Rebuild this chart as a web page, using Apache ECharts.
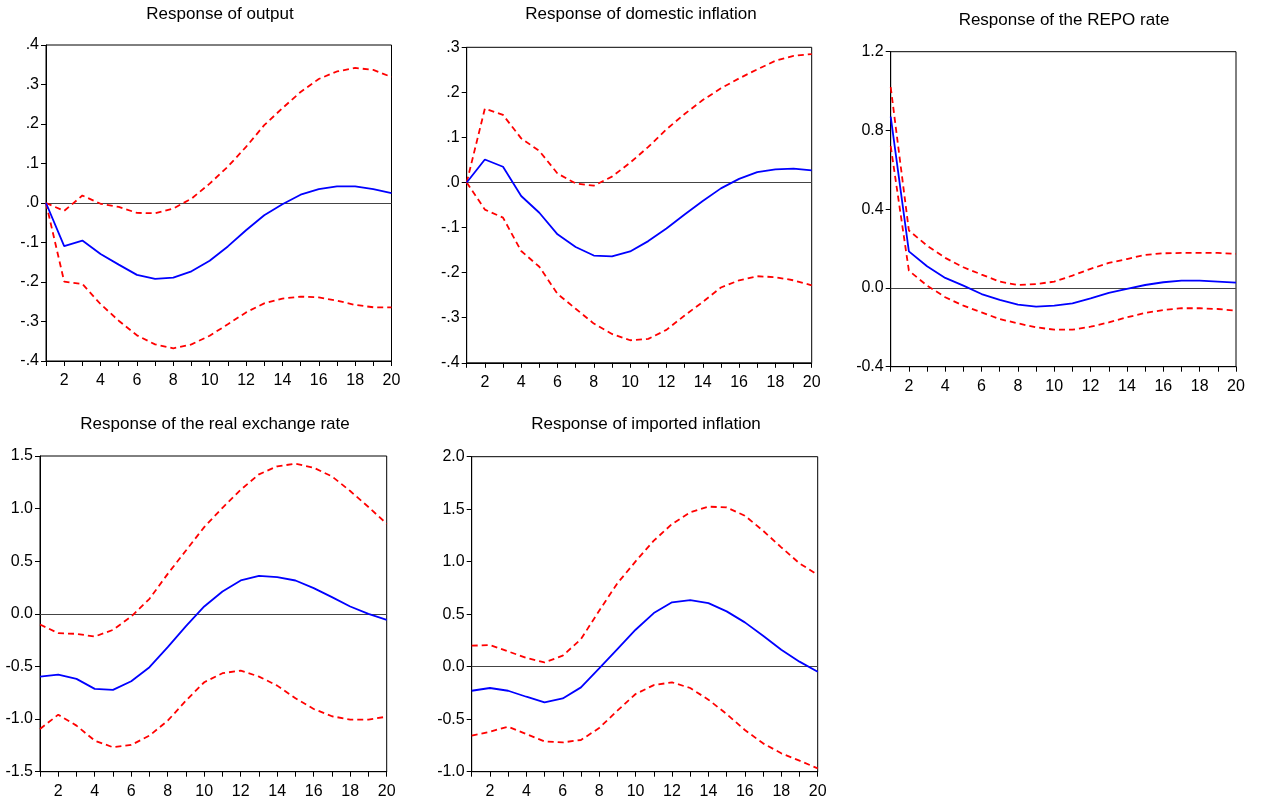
<!DOCTYPE html>
<html>
<head>
<meta charset="utf-8">
<script src="https://cdn.jsdelivr.net/npm/echarts@6/dist/echarts.min.js"></script>
<style>
html,body{margin:0;padding:0;background:#fff;}
#chart{width:1269px;height:805px;}
</style>
</head>
<body>
<div id="chart"></div>
<script>
// ---- data ----
const periods = [1,2,3,4,5,6,7,8,9,10,11,12,13,14,15,16,17,18,19,20];

const titles = [
  "Response of output",
  "Response of domestic inflation",
  "Response of the REPO rate",
  "Response of the real exchange rate",
  "Response of imported inflation"
];

const outputResp  = [0,-0.109,-0.095,-0.129,-0.156,-0.182,-0.192,-0.189,-0.173,-0.146,-0.110,-0.069,-0.031,-0.003,0.021,0.035,0.042,0.042,0.035,0.025];
const outputUpper = [0,-0.020,0.019,-0.002,-0.010,-0.025,-0.026,-0.014,0.011,0.049,0.092,0.142,0.197,0.240,0.281,0.314,0.333,0.342,0.337,0.319];
const outputLower = [0,-0.199,-0.205,-0.256,-0.298,-0.335,-0.358,-0.368,-0.358,-0.336,-0.307,-0.277,-0.254,-0.242,-0.237,-0.239,-0.247,-0.258,-0.264,-0.264];

const domInfResp  = [0,0.051,0.035,-0.030,-0.067,-0.115,-0.143,-0.162,-0.164,-0.153,-0.130,-0.102,-0.071,-0.041,-0.013,0.008,0.023,0.029,0.031,0.027];
const domInfUpper = [0,0.164,0.150,0.098,0.070,0.020,-0.002,-0.007,0.013,0.044,0.079,0.118,0.152,0.183,0.209,0.231,0.251,0.270,0.281,0.285];
const domInfLower = [0,-0.060,-0.078,-0.152,-0.187,-0.247,-0.280,-0.313,-0.336,-0.350,-0.347,-0.327,-0.295,-0.265,-0.233,-0.217,-0.208,-0.210,-0.217,-0.228];

const repoResp  = [0.870,0.186,0.110,0.051,0.012,-0.031,-0.061,-0.085,-0.095,-0.090,-0.078,-0.053,-0.025,-0.005,0.015,0.029,0.037,0.037,0.032,0.027];
const repoUpper = [1.020,0.292,0.215,0.153,0.105,0.068,0.032,0.015,0.020,0.032,0.063,0.097,0.127,0.147,0.168,0.176,0.178,0.178,0.178,0.173];
const repoLower = [0.720,0.088,0.012,-0.047,-0.090,-0.124,-0.158,-0.180,-0.200,-0.212,-0.212,-0.197,-0.175,-0.149,-0.127,-0.112,-0.103,-0.103,-0.107,-0.115];

const rerResp  = [-0.596,-0.577,-0.618,-0.713,-0.723,-0.640,-0.507,-0.317,-0.117,0.070,0.212,0.317,0.361,0.349,0.317,0.244,0.159,0.070,0.000,-0.057];
const rerUpper = [-0.101,-0.184,-0.190,-0.216,-0.152,-0.025,0.143,0.380,0.602,0.824,1.008,1.180,1.326,1.402,1.427,1.389,1.306,1.167,1.015,0.856];
const rerLower = [-1.094,-0.958,-1.062,-1.205,-1.268,-1.246,-1.157,-1.015,-0.824,-0.650,-0.564,-0.539,-0.596,-0.682,-0.802,-0.904,-0.973,-1.005,-1.005,-0.977];

const impInfResp  = [-0.229,-0.203,-0.229,-0.286,-0.340,-0.302,-0.197,-0.016,0.168,0.352,0.511,0.613,0.635,0.606,0.527,0.422,0.295,0.162,0.048,-0.048];
const impInfUpper = [0.200,0.206,0.146,0.083,0.041,0.105,0.263,0.533,0.794,1.003,1.200,1.359,1.470,1.524,1.517,1.438,1.295,1.137,0.984,0.876];
const impInfLower = [-0.657,-0.619,-0.571,-0.641,-0.711,-0.721,-0.698,-0.584,-0.419,-0.260,-0.175,-0.149,-0.203,-0.314,-0.451,-0.603,-0.730,-0.825,-0.895,-0.968];

// y-axis tick settings per panel
const yMins = [-0.4,-0.4,-0.4,-1.5,-1.0];
const yMaxs = [0.4,0.3,1.2,1.5,2.0];
const yIntervals = [0.1,0.1,0.4,0.5,0.5];

// ---- layout ----
const panels = [
  {resp: outputResp, up: outputUpper, lo: outputLower, grid:{left:46,top:45,width:345.5,height:316}, title:[220,14], dotFmt:true},
  {resp: domInfResp, up: domInfUpper, lo: domInfLower, grid:{left:466.7,top:47.3,width:345,height:315.5}, title:[641,14], dotFmt:true},
  {resp: repoResp, up: repoUpper, lo: repoLower, grid:{left:890.7,top:51.7,width:345.3,height:315}, title:[1064,20.5], dotFmt:false},
  {resp: rerResp, up: rerUpper, lo: rerLower, grid:{left:40,top:456,width:346.7,height:315.7}, title:[215,424.5], dotFmt:false},
  {resp: impInfResp, up: impInfUpper, lo: impInfLower, grid:{left:471.7,top:456.7,width:346,height:315}, title:[646,424.5], dotFmt:false}
];

const FONT = "'Liberation Sans', Arial, sans-serif";
const grids = [], xAxes = [], yAxes = [], series = [], graphics = [];

panels.forEach((p, i) => {
  grids.push(Object.assign({show:true, borderColor:'#000', borderWidth:1, backgroundColor:'transparent'}, p.grid));
  xAxes.push({
    type:'category', gridIndex:i, data:periods, boundaryGap:false,
    axisLine:{onZero:false, lineStyle:{color:'#000', width:1}},
    axisTick:{show:true, interval:0, length:5, lineStyle:{color:'#000'}},
    axisLabel:{interval:(idx)=> idx % 2 === 1, color:'#000', fontSize:16, fontFamily:FONT, margin:12},
    splitLine:{show:false}
  });
  yAxes.push({
    type:'value', gridIndex:i, min:yMins[i], max:yMaxs[i], interval:yIntervals[i],
    axisLine:{show:true, onZero:false, lineStyle:{color:'#000', width:1}},
    axisTick:{show:true, length:5, lineStyle:{color:'#000'}},
    axisLabel:{color:'#000', fontSize:16, fontFamily:FONT, margin:7,
      formatter:(v)=>{ let s = (Math.round(v*10)/10).toFixed(1); if (s === '-0.0') s = '0.0'; return p.dotFmt ? s.replace('0.', '.') : s; }},
    splitLine:{show:false}
  });
  series.push({
    type:'line', xAxisIndex:i, yAxisIndex:i, data:p.up, symbol:'none', silent:true,
    lineStyle:{color:'#ff0000', width:1.8, type:[6,4]}, z:3,
    markLine:{silent:true, symbol:'none', label:{show:false},
      lineStyle:{color:'#444', width:1, type:'solid'}, data:[{yAxis:0}], z:1}
  });
  series.push({
    type:'line', xAxisIndex:i, yAxisIndex:i, data:p.lo, symbol:'none', silent:true,
    lineStyle:{color:'#ff0000', width:1.8, type:[6,4]}, z:3
  });
  series.push({
    type:'line', xAxisIndex:i, yAxisIndex:i, data:p.resp, symbol:'none', silent:true,
    lineStyle:{color:'#0000ff', width:1.8, type:'solid'}, z:4
  });
  graphics.push({
    type:'text', x:p.title[0], y:p.title[1],
    style:{text:titles[i], fill:'#000', font:'17px ' + FONT, textAlign:'center', textVerticalAlign:'middle'}
  });
});

const chart = echarts.init(document.getElementById('chart'), null, {renderer:'canvas'});
chart.setOption({
  animation:false,
  backgroundColor:'#fff',
  grid:grids, xAxis:xAxes, yAxis:yAxes, series:series, graphic:graphics
});
</script>
</body>
</html>
